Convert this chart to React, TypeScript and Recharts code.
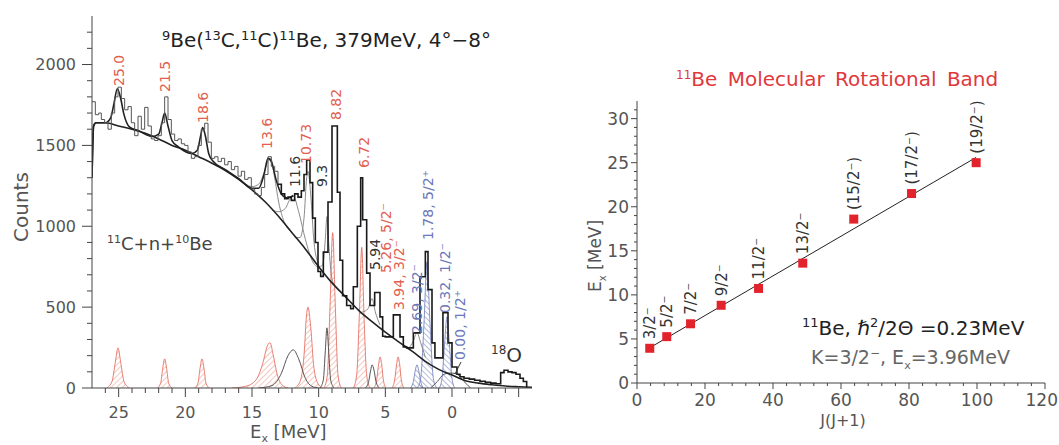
import React from "react";
import { ComposedChart, Line, Area, Scatter, XAxis, YAxis } from "recharts";

const FONT = "'DejaVu Sans', Verdana, sans-serif";
const RED = "#e2604f";
const BLUE = "#6b78b8";
const INK = "#333";
const GREY = "#555";

// ---- left panel: 9Be(13C,11C)11Be spectrum, [Ex (MeV), counts] ----
const spectrumHigh: [number, number][] = [
  [27.0, 1770], [26.75, 1690], [26.5, 1700], [26.3, 1660], [26.05, 1640], [25.8, 1600],
  [25.55, 1700], [25.3, 1800], [25.05, 1860], [24.8, 1790], [24.55, 1720], [24.3, 1740],
  [24.05, 1640], [23.8, 1560], [23.55, 1680], [23.3, 1600], [23.05, 1735], [22.8, 1620],
  [22.55, 1540], [22.3, 1530], [22.05, 1560], [21.8, 1640], [21.55, 1800], [21.3, 1660],
  [21.05, 1570], [20.8, 1530], [20.55, 1540], [20.3, 1510], [20.05, 1500], [19.8, 1460],
  [19.55, 1420], [19.3, 1430], [19.05, 1500], [18.8, 1600], [18.55, 1637], [18.3, 1520],
  [18.05, 1420], [17.8, 1430], [17.55, 1400], [17.3, 1420], [17.05, 1380], [16.8, 1400],
  [16.55, 1350], [16.3, 1370], [16.05, 1310], [15.8, 1340], [15.55, 1290], [15.3, 1300],
  [15.05, 1230], [14.8, 1200], [14.55, 1190], [14.3, 1240], [14.05, 1320], [13.8, 1430],
  [13.55, 1370], [13.3, 1340], [13.05, 1260],
];

const spectrumLow: [number, number][] = [
  [13.05, 1260], [12.8, 1200], [12.55, 1170], [12.3, 1180], [12.05, 1160], [11.8, 1200],
  [11.55, 1180], [11.3, 1220], [11.1, 1320], [10.9, 1410], [10.65, 1270], [10.45, 1050],
  [10.25, 900], [10.05, 720], [9.85, 690], [9.65, 840], [9.3, 1150], [9.0, 1620],
  [8.6, 1210], [8.4, 790], [8.2, 570], [7.9, 510], [7.6, 490], [7.4, 626], [7.1, 1000],
  [6.85, 1300], [6.7, 1040], [6.4, 710], [6.15, 510], [5.8, 590], [5.4, 440], [5.2, 320],
  [5.0, 316], [4.4, 452], [3.9, 316], [3.65, 254], [3.4, 248], [2.9, 341], [2.4, 688],
  [2.0, 843], [1.8, 608], [1.5, 279], [1.28, 186], [0.68, 465], [0.3, 279], [0.0, 130],
  [-0.37, 85], [-0.6, 70], [-0.9, 60], [-1.3, 55], [-1.7, 48], [-2.1, 42], [-2.5, 36],
  [-2.9, 30], [-3.3, 26], [-3.65, 95], [-3.9, 110], [-4.2, 100], [-4.5, 95], [-4.8, 85],
  [-5.1, 60], [-5.35, 40], [-5.6, 0], [-5.62, 0],
];

const background: [number, number][] = [
  [27.0, 1300], [26.88, 1620], [26.7, 1640], [26, 1640], [25, 1620], [24, 1600], [23, 1575],
  [22, 1540], [21, 1500], [20, 1470], [19, 1430], [18, 1390], [17, 1345], [16, 1290],
  [15, 1225], [14, 1150], [13, 1060], [12, 960], [11, 860], [10, 750], [9, 650], [8, 565],
  [7, 480], [6, 410], [5, 345], [4, 285], [3, 228], [2, 165], [1, 115], [0, 80], [-1, 45],
  [-2, 30], [-3, 20], [-4, 12], [-5, 8], [-6, 5],
];

const totalFit: [number, number][] = [
  [27.0, 1300], [26.88, 1620], [26.7, 1640], [26.0, 1640], [25.6, 1670], [25.35, 1760],
  [25.1, 1850], [24.85, 1790], [24.6, 1690], [24.2, 1615], [23.5, 1590], [22.5, 1555],
  [22.0, 1570], [21.75, 1640], [21.55, 1700], [21.3, 1620], [21.0, 1530], [20.5, 1490],
  [19.5, 1450], [19.1, 1470], [18.85, 1560], [18.7, 1610], [18.5, 1560], [18.25, 1450],
  [17.9, 1400], [17, 1350], [16, 1295], [15, 1235], [14.5, 1235], [14.1, 1320],
  [13.8, 1420], [13.55, 1400], [13.2, 1290], [12.8, 1200], [12.3, 1175], [11.9, 1190],
];

// background + single components (thin grey)
const grey136: [number, number][] = [
  [16, 1300], [15, 1245], [14.5, 1260], [14.1, 1330], [13.8, 1405], [13.6, 1420],
  [13.3, 1300], [13.0, 1150], [12.6, 1030], [12.2, 975],
];
const grey116: [number, number][] = [
  [13.5, 1100], [13, 1090], [12.5, 1110], [12.2, 1160], [11.9, 1186], [11.5, 1090],
  [11.0, 920], [10.5, 790], [10.0, 740],
];
const grey107: [number, number][] = [
  [11.8, 930], [11.4, 930], [11.1, 1050], [10.9, 1300], [10.8, 1340], [10.6, 1200],
  [10.35, 900], [10.0, 760], [9.7, 720],
];
const grey93: [number, number][] = [
  [10.0, 750], [9.7, 760], [9.5, 920], [9.38, 1060], [9.25, 900], [9.05, 700], [8.85, 640],
];
const grey594: [number, number][] = [
  [6.7, 470], [6.3, 490], [6.0, 553], [5.75, 470], [5.4, 390],
];
const grey269: [number, number][] = [
  [3.3, 240], [2.9, 290], [2.63, 343], [2.35, 280], [2.0, 190],
];

// fitted peaks at the bottom
const red250: [number, number][] = [[25.9, 0], [25.5, 40], [25.25, 160], [25.05, 248], [24.85, 160], [24.6, 40], [24.2, 0]];
const red215: [number, number][] = [[22.1, 0], [21.85, 30], [21.7, 120], [21.55, 180], [21.4, 120], [21.25, 30], [21.0, 0]];
const red186: [number, number][] = [[19.3, 0], [19.05, 30], [18.9, 120], [18.75, 180], [18.6, 120], [18.45, 30], [18.2, 0]];
const red136: [number, number][] = [[16.5, 0], [15.5, 10], [14.7, 50], [14.2, 150], [13.85, 260], [13.65, 280], [13.4, 200], [13.1, 80], [12.7, 15], [12.3, 0]];
const red107: [number, number][] = [[11.8, 0], [11.4, 40], [11.1, 200], [10.9, 460], [10.8, 500], [10.6, 380], [10.35, 120], [10.0, 20], [9.7, 0]];
const red882: [number, number][] = [[9.6, 0], [9.35, 80], [9.15, 500], [8.95, 960], [8.75, 500], [8.55, 80], [8.3, 0]];
const red672: [number, number][] = [[7.4, 0], [7.15, 80], [6.95, 450], [6.77, 870], [6.6, 450], [6.4, 80], [6.15, 0]];
const red526: [number, number][] = [[5.85, 0], [5.65, 50], [5.5, 150], [5.4, 192], [5.28, 150], [5.15, 50], [4.95, 0]];
const red394: [number, number][] = [[4.5, 0], [4.3, 50], [4.15, 150], [4.05, 192], [3.93, 150], [3.8, 50], [3.6, 0]];
const blue269: [number, number][] = [[3.1, 0], [2.9, 40], [2.75, 110], [2.63, 143], [2.5, 110], [2.35, 40], [2.15, 0]];
const blue178: [number, number][] = [[2.6, 0], [2.35, 60], [2.1, 400], [1.88, 780], [1.65, 400], [1.4, 60], [1.15, 0]];
const blue032: [number, number][] = [[0.95, 0], [0.75, 60], [0.55, 280], [0.38, 440], [0.2, 280], [0.0, 60], [-0.2, 0]];
const black116: [number, number][] = [[14.5, 0], [13.5, 15], [12.8, 90], [12.3, 200], [11.9, 236], [11.5, 180], [11.0, 60], [10.5, 10], [10.0, 0]];
const black93: [number, number][] = [[9.9, 0], [9.65, 50], [9.5, 230], [9.38, 372], [9.25, 230], [9.1, 50], [8.85, 0]];
const black594: [number, number][] = [[6.5, 0], [6.25, 40], [6.1, 110], [6.0, 143], [5.85, 110], [5.7, 40], [5.45, 0]];
const black000: [number, number][] = [[1.6, 0], [1.1, 40], [0.6, 85], [0.1, 93], [-0.4, 85], [-0.9, 40], [-1.4, 0]];

const redPeaks = [red250, red215, red186, red136, red107, red882, red672, red526, red394];
const bluePeaks = [blue269, blue178, blue032];
const blackPeaks = [black116, black93, black594, black000];
const greyCurves = [grey136, grey116, grey107, grey93, grey594, grey269];

// ---- right panel: rotational band ----
const spins = ["3/2⁻", "5/2⁻", "7/2⁻", "9/2⁻", "11/2⁻", "13/2⁻", "(15/2⁻)", "(17/2⁻)", "(19/2⁻)"];
const jj1 = [3.75, 8.75, 15.75, 24.75, 35.75, 48.75, 63.75, 80.75, 99.75];
const exBand = [3.94, 5.26, 6.72, 8.82, 10.73, 13.6, 18.6, 21.5, 25.0];
const bandFit: [number, number][] = [[3.75, 4.0], [99.75, 25.6]];

const pts = (a: [number, number][]) => a.map(([x, y]) => ({ x, y }));
const bandData = jj1.map((x, i) => ({ x, y: exBand[i], label: spins[i] }));

const range = (a: number, b: number, s: number) => {
  const out: number[] = [];
  for (let v = a; v <= b + 1e-9; v += s) out.push(Math.round(v * 100) / 100);
  return out;
};

type Side = "bottom" | "top" | "left" | "right";
function makeTick(side: Side, isMajor: (v: number) => boolean, label: (v: number) => string | null,
  maj: number, min: number, fs: number, gap: number, lastAt?: number) {
  return (p: any) => {
    const { x, y, payload } = p;
    const v = payload.value;
    const m = isMajor(v);
    const len = m ? maj : min;
    const txt = m ? label(v) : null;
    const st = { stroke: "#444", strokeWidth: 1 };
    if (side === "bottom") {
      // keep the last label inside the page
      const atEnd = lastAt !== undefined && v === lastAt;
      return (<g><line x1={x} y1={y} x2={x} y2={y + len} {...st} />
        {txt !== null && <text x={atEnd ? x + 13 : x} y={y + gap} textAnchor={atEnd ? "end" : "middle"}
          fontSize={fs} fill={GREY} fontFamily={FONT}>{txt}</text>}</g>);
    }
    if (side === "top") return <line x1={x} y1={y} x2={x} y2={y - len} {...st} />;
    if (side === "left")
      return (<g><line x1={x - len} y1={y} x2={x} y2={y} {...st} />
        {txt !== null && <text x={x - gap} y={y} dy="0.36em" textAnchor="end" fontSize={fs} fill={GREY} fontFamily={FONT}>{txt}</text>}</g>);
    return <line x1={x} y1={y} x2={x + len} y2={y} {...st} />;
  };
}

const isMult = (k: number) => (v: number) => Math.abs(v / k - Math.round(v / k)) < 1e-6;

const RotText = ({ cx, bottom, text, color, size = 14 }: { cx: number; bottom: number; text: string; color: string; size?: number }) => (
  <text transform={`translate(${cx + size * 0.37},${bottom}) rotate(-90)`} fontSize={size} fill={color} fontFamily={FONT}>{text}</text>
);

const BandPoint = (p: any) => {
  const { cx, cy, payload } = p;
  return (
    <g>
      <rect x={cx - 4.5} y={cy - 4.5} width={9} height={9} fill="#e3232c" />
      <text transform={`translate(${cx + 5.5},${cy - 9}) rotate(-90)`} fontSize={15} fill={INK} fontFamily={FONT}>{payload.label}</text>
    </g>
  );
};

function SpectrumChart() {
  return (
    <ComposedChart width={560} height={445} margin={{ top: 16, right: 28, bottom: 27, left: 32 }}>
      <XAxis xAxisId={0} dataKey="x" type="number" domain={[-6, 27]} reversed allowDataOverflow
        ticks={range(-5, 26, 1)} interval={0} height={30} tickSize={0} tickMargin={0} tickLine={false}
        axisLine={{ stroke: "#444" }}
        tick={makeTick("bottom", isMult(5), (v) => (v >= 0 ? String(v) : null), 9, 5, 16, 30)} />
      <XAxis xAxisId="top" orientation="top" dataKey="x" type="number" domain={[-6, 27]} reversed allowDataOverflow
        ticks={range(-5, 26, 1)} interval={0} height={0} tickSize={0} tickMargin={0} tickLine={false}
        axisLine={{ stroke: "#444" }} tick={makeTick("top", isMult(5), () => null, 10, 4, 16, 0)} />
      <YAxis yAxisId={0} type="number" domain={[0, 2300]} allowDataOverflow ticks={range(0, 2200, 100)} interval={0}
        width={60} tickSize={0} tickMargin={0} tickLine={false} axisLine={{ stroke: "#444" }}
        tick={makeTick("left", isMult(500), (v) => String(v), 10, 5, 16, 16)} />
      <YAxis yAxisId="right" orientation="right" type="number" domain={[0, 2300]} allowDataOverflow
        ticks={range(0, 2200, 100)} interval={0} width={0} tickSize={0} tickMargin={0} tickLine={false}
        axisLine={{ stroke: "#444" }} tick={makeTick("right", isMult(500), () => null, 10, 5, 16, 0)} />

      {redPeaks.map((d, i) => (
        <Area key={"r" + i} data={pts(d)} dataKey="y" type="monotone" stroke={RED} strokeWidth={0.8}
          fill="url(#hatchRed)" fillOpacity={1} dot={false} activeDot={false} isAnimationActive={false} />
      ))}
      {bluePeaks.map((d, i) => (
        <Area key={"b" + i} data={pts(d)} dataKey="y" type="monotone" stroke={BLUE} strokeWidth={0.8}
          fill="url(#hatchBlue)" fillOpacity={1} dot={false} activeDot={false} isAnimationActive={false} />
      ))}
      {blackPeaks.map((d, i) => (
        <Line key={"k" + i} data={pts(d)} dataKey="y" type="monotone" stroke="#555" strokeWidth={1}
          dot={false} activeDot={false} isAnimationActive={false} />
      ))}
      {greyCurves.map((d, i) => (
        <Line key={"g" + i} data={pts(d)} dataKey="y" type="monotone" stroke="#8a8a8a" strokeWidth={1}
          dot={false} activeDot={false} isAnimationActive={false} />
      ))}
      <Line data={pts(background)} dataKey="y" type="monotone" stroke="#222" strokeWidth={1.6}
        dot={false} activeDot={false} isAnimationActive={false} />
      <Line data={pts(totalFit)} dataKey="y" type="monotone" stroke="#222" strokeWidth={1.6}
        dot={false} activeDot={false} isAnimationActive={false} />
      <Line data={pts(spectrumHigh)} dataKey="y" type="stepAfter" stroke="#555" strokeWidth={1}
        dot={false} activeDot={false} isAnimationActive={false} />
      <Line data={pts(spectrumLow)} dataKey="y" type="stepAfter" stroke="#1a1a1a" strokeWidth={1.6}
        dot={false} activeDot={false} isAnimationActive={false} />
    </ComposedChart>
  );
}

function BandChart() {
  return (
    <ComposedChart width={499} height={445} margin={{ top: 101, right: 14, bottom: 32, left: 27 }}>
      <XAxis xAxisId={0} dataKey="x" type="number" domain={[0, 120]} allowDataOverflow ticks={range(0, 120, 4)}
        interval={0} height={30} tickSize={0} tickMargin={0} tickLine={false} axisLine={{ stroke: "#444" }}
        tick={makeTick("bottom", isMult(20), (v) => String(v), 6, 3, 17, 23, 120)} />
      <XAxis xAxisId="top" orientation="top" dataKey="x" type="number" domain={[0, 120]} allowDataOverflow
        ticks={range(0, 120, 4)} interval={0} height={0} tickSize={0} tickMargin={0} tickLine={false}
        axisLine={{ stroke: "#444" }} tick={makeTick("top", isMult(20), () => null, 7, 3, 17, 0)} />
      <YAxis yAxisId={0} type="number" domain={[0, 32]} allowDataOverflow ticks={range(0, 31, 1)} interval={0}
        width={50} tickSize={0} tickMargin={0} tickLine={false} axisLine={{ stroke: "#444" }}
        tick={makeTick("left", isMult(5), (v) => String(v), 6, 3, 17, 8)} />
      <YAxis yAxisId="right" orientation="right" type="number" domain={[0, 32]} allowDataOverflow
        ticks={range(0, 31, 1)} interval={0} width={0} tickSize={0} tickMargin={0} tickLine={false}
        axisLine={{ stroke: "#444" }} tick={makeTick("right", isMult(5), () => null, 6, 3, 17, 0)} />
      <Line data={pts(bandFit)} dataKey="y" type="linear" stroke="#222" strokeWidth={1}
        dot={false} activeDot={false} isAnimationActive={false} />
      <Scatter data={bandData} dataKey="y" shape={BandPoint} isAnimationActive={false} />
    </ComposedChart>
  );
}

export default function App() {
  return (
    <div style={{ position: "absolute", left: 0, top: 0, width: 1059, height: 445, background: "#fff", overflow: "hidden" }}>
      <svg width={0} height={0} style={{ position: "absolute" }}>
        <defs>
          <pattern id="hatchRed" patternUnits="userSpaceOnUse" width={4} height={4} patternTransform="rotate(45)">
            <line x1={0} y1={0} x2={0} y2={4} stroke="#e98373" strokeWidth={0.9} />
          </pattern>
          <pattern id="hatchBlue" patternUnits="userSpaceOnUse" width={4} height={4} patternTransform="rotate(-45)">
            <line x1={0} y1={0} x2={0} y2={4} stroke="#5a68ae" strokeWidth={0.9} />
          </pattern>
        </defs>
      </svg>
      <div style={{ position: "absolute", left: 0, top: 0 }}><SpectrumChart /></div>
      <div style={{ position: "absolute", left: 560, top: 0 }}><BandChart /></div>
      <svg width={1059} height={445} style={{ position: "absolute", left: 0, top: 0, pointerEvents: "none" }} fontFamily={FONT}>
        {/* left panel text */}
        <text x={162} y={47} fontSize={20} fill="#222">
          <tspan fontSize={13} dy={-7}>9</tspan><tspan dy={7}>Be(</tspan>
          <tspan fontSize={13} dy={-7}>13</tspan><tspan dy={7}>C,</tspan>
          <tspan fontSize={13} dy={-7}>11</tspan><tspan dy={7}>C)</tspan>
          <tspan fontSize={13} dy={-7}>11</tspan><tspan dy={7}>Be,  379MeV,  4°−8°</tspan>
        </text>
        <text transform="translate(28,242) rotate(-90)" fontSize={20} fill={GREY}>Counts</text>
        <text x={250} y={438} fontSize={18} fill={GREY}>E<tspan fontSize={11} dy={4}>x</tspan><tspan dy={-4}>  [MeV]</tspan></text>
        <text x={107} y={250} fontSize={18} fill="#444">
          <tspan fontSize={11} dy={-7}>11</tspan><tspan dy={7}>C+n+</tspan><tspan fontSize={11} dy={-7}>10</tspan><tspan dy={7}>Be</tspan>
        </text>
        <text x={491} y={362} fontSize={20} fill={INK}><tspan fontSize={12} dy={-8}>18</tspan><tspan dy={8}>O</tspan></text>
        <RotText cx={119} bottom={86} text="25.0" color={RED} />
        <RotText cx={165} bottom={92} text="21.5" color={RED} />
        <RotText cx={203} bottom={123} text="18.6" color={RED} />
        <RotText cx={267} bottom={149} text="13.6" color={RED} />
        <RotText cx={306} bottom={164} text="10.73" color={RED} />
        <RotText cx={295} bottom={187} text="11.6" color={INK} />
        <RotText cx={322} bottom={187} text="9.3" color={INK} />
        <RotText cx={336} bottom={120} text="8.82" color={RED} />
        <RotText cx={364} bottom={168} text="6.72" color={RED} />
        <RotText cx={375} bottom={270} text="5.94" color={INK} />
        <RotText cx={386} bottom={273} text="5.26, 5/2⁻" color={RED} />
        <RotText cx={399} bottom={310} text="3.94, 3/2⁻" color={RED} />
        <RotText cx={417} bottom={334} text="2.69, 3/2⁻" color={BLUE} />
        <RotText cx={428} bottom={240} text="1.78, 5/2⁺" color={BLUE} />
        <RotText cx={445} bottom={313} text="0.32, 1/2⁻" color={BLUE} />
        <RotText cx={460} bottom={360} text="0.00, 1/2⁺" color={BLUE} />
        <line x1={461} y1={362} x2={455} y2={374} stroke={INK} strokeWidth={1} />

        {/* right panel text */}
        <text x={676} y={86} fontSize={20} fill="#e0383c" wordSpacing={4}>
          <tspan fontSize={12} dy={-7}>11</tspan><tspan dy={7}>Be Molecular Rotational Band</tspan>
        </text>
        <text transform="translate(601,292) rotate(-90)" fontSize={17} fill={GREY}>
          E<tspan fontSize={10} dy={5}>x</tspan><tspan dy={-5}> [MeV]</tspan>
        </text>
        <text x={843} y={426} fontSize={16} fill={GREY} textAnchor="middle">J(J+1)</text>
        <text x={802} y={335} fontSize={20} fill="#222">
          <tspan fontSize={13} dy={-8}>11</tspan><tspan dy={8}>Be, </tspan><tspan fontStyle="italic">ℏ</tspan><tspan fontSize={13} dy={-8}>2</tspan><tspan dy={8}>/2Θ =0.23MeV</tspan>
        </text>
        <text x={811} y={364} fontSize={19} fill="#666">
          K=3/2<tspan fontSize={12} dy={-7}>−</tspan><tspan dy={7}>, E</tspan><tspan fontSize={11} dy={5}>x</tspan><tspan dy={-5}>=3.96MeV</tspan>
        </text>
      </svg>
    </div>
  );
}
